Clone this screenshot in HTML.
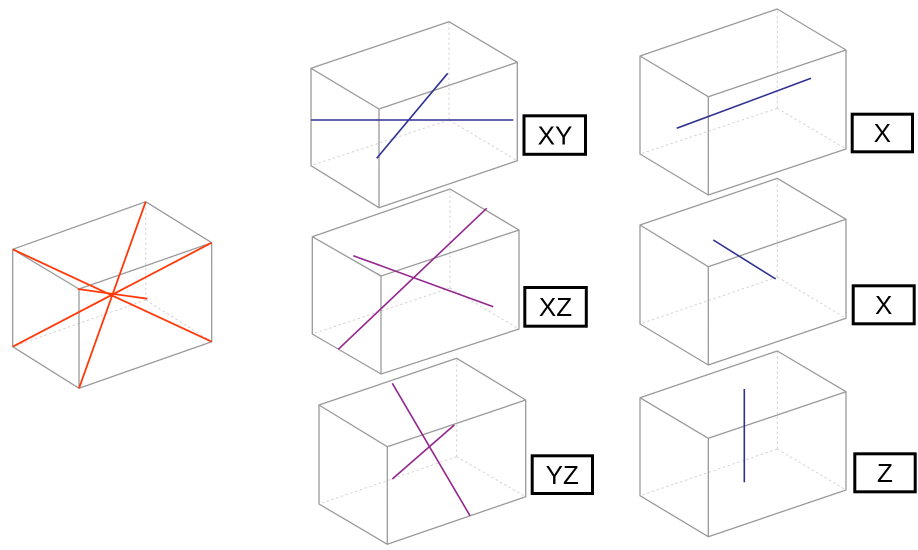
<!DOCTYPE html>
<html><head><meta charset="utf-8"><style>
html,body{margin:0;padding:0;background:#fff;}
svg{display:block;}
.e{stroke:#9a9a9a;stroke-width:1.3;fill:none;stroke-linejoin:round;}
.h{stroke:#d4d4d4;stroke-width:1;stroke-dasharray:2.5,2.5;fill:none;}
.r{stroke:#ff3a0a;stroke-width:1.8;}
.b{stroke:#2e3192;stroke-width:1.6;}
.p{stroke:#93278f;stroke-width:1.6;}
.lb{fill:#fff;stroke:#000;stroke-width:3;}
.t{font-family:"Liberation Sans",sans-serif;font-size:26px;fill:#000;text-anchor:middle;}
</style></head><body>
<svg width="918" height="550" viewBox="0 0 918 550" xmlns="http://www.w3.org/2000/svg">
<!-- Big box -->
<g>
<path class="h" d="M145.7,300 L145.7,201.7 M145.7,300 L12.7,346.7 M145.7,300 L211.7,341.7"/>
<path class="e" d="M12.7,249.3 L145.7,201.7 L211.7,242.7 L79,289 Z M12.7,249.3 L12.7,346.7 L79,388.3 L211.7,341.7 L211.7,242.7 M79,289 L79,388.3"/>
<line class="r" x1="12.7" y1="249.3" x2="211.7" y2="341.7"/>
<line class="r" x1="12.7" y1="346.7" x2="211.7" y2="242.7"/>
<line class="r" x1="79" y1="388.3" x2="145.7" y2="201.7"/>
<line class="r" x1="77.7" y1="289" x2="147.3" y2="298.7"/>
</g>
<!-- XY -->
<g>
<path class="h" d="M449,120 L449,21.7 M449,120 L311,165.7 M449,120 L517.3,160.7"/>
<path class="e" d="M311,68.3 L449,21.7 L517.3,62.3 L379,109 Z M311,68.3 L311,165.7 L379,207.7 L517.3,160.7 L517.3,62.3 M379,109 L379,207.7"/>
<line class="b" x1="311" y1="120" x2="513.3" y2="120"/>
<line class="b" x1="376.7" y1="158.3" x2="447.7" y2="73.3"/>
<rect class="lb" x="524" y="115.8" width="61.5" height="38.5"/>
<text class="t" x="555" y="144.5">XY</text>
</g>
<!-- XZ -->
<g>
<path class="h" d="M450,288 L450,189 M450,288 L312.3,334 M450,288 L519,329"/>
<path class="e" d="M312.3,236.7 L450,189 L519,230 L381,276 Z M312.3,236.7 L312.3,334 L381,374 L519,329 L519,230 M381,276 L381,374"/>
<line class="p" x1="338.3" y1="349.3" x2="486.7" y2="208.3"/>
<line class="p" x1="353.3" y1="255.7" x2="493.3" y2="306.7"/>
<rect class="lb" x="524.8" y="287.5" width="61.5" height="38.7"/>
<text class="t" x="555.5" y="316">XZ</text>
</g>
<!-- YZ -->
<g>
<path class="h" d="M456.7,456.7 L456.7,358.3 M456.7,456.7 L319,504 M456.7,456.7 L525.7,496.7"/>
<path class="e" d="M319,405 L456.7,358.3 L525.7,400 L387.3,446.7 Z M319,405 L319,504 L387.3,544.3 L525.7,496.7 L525.7,400 M387.3,446.7 L387.3,544.3"/>
<line class="p" x1="392.3" y1="383.3" x2="470" y2="515.7"/>
<line class="p" x1="392.3" y1="479" x2="454.3" y2="425"/>
<rect class="lb" x="532.2" y="455.8" width="60.3" height="37.7"/>
<text class="t" x="562.3" y="483.8">YZ</text>
</g>
<!-- X1 -->
<g>
<path class="h" d="M777.3,108.3 L777.3,9 M777.3,108.3 L640,154 M777.3,108.3 L846,149"/>
<path class="e" d="M640,56 L777.3,9 L846,50 L708.3,96.7 Z M640,56 L640,154 L708.3,195 L846,149 L846,50 M708.3,96.7 L708.3,195"/>
<line class="b" x1="676.7" y1="128.3" x2="811" y2="78.3"/>
<rect class="lb" x="852.2" y="114.2" width="60.3" height="37.6"/>
<text class="t" x="882.3" y="142">X</text>
</g>
<!-- X2 -->
<g>
<path class="h" d="M777.3,277 L777.3,178.3 M777.3,277 L640,324 M777.3,277 L846,318.3"/>
<path class="e" d="M640,225 L777.3,178.3 L846,219.3 L708.3,266.7 Z M640,225 L640,324 L708.3,365 L846,318.3 L846,219.3 M708.3,266.7 L708.3,365"/>
<line class="b" x1="713.3" y1="240" x2="775.7" y2="279"/>
<rect class="lb" x="853.2" y="285.8" width="61" height="38"/>
<text class="t" x="883.7" y="314">X</text>
</g>
<!-- Z -->
<g>
<path class="h" d="M777.3,449 L777.3,351 M777.3,449 L640,495.7 M777.3,449 L846,490"/>
<path class="e" d="M640,397.7 L777.3,351 L846,391.7 L708.3,438.3 Z M640,397.7 L640,495.7 L708.3,536.7 L846,490 L846,391.7 M708.3,438.3 L708.3,536.7"/>
<line class="b" x1="744.3" y1="389" x2="744.3" y2="482.3"/>
<rect class="lb" x="854.8" y="453.8" width="60.4" height="38"/>
<text class="t" x="885" y="482">Z</text>
</g>
</svg>
</body></html>
